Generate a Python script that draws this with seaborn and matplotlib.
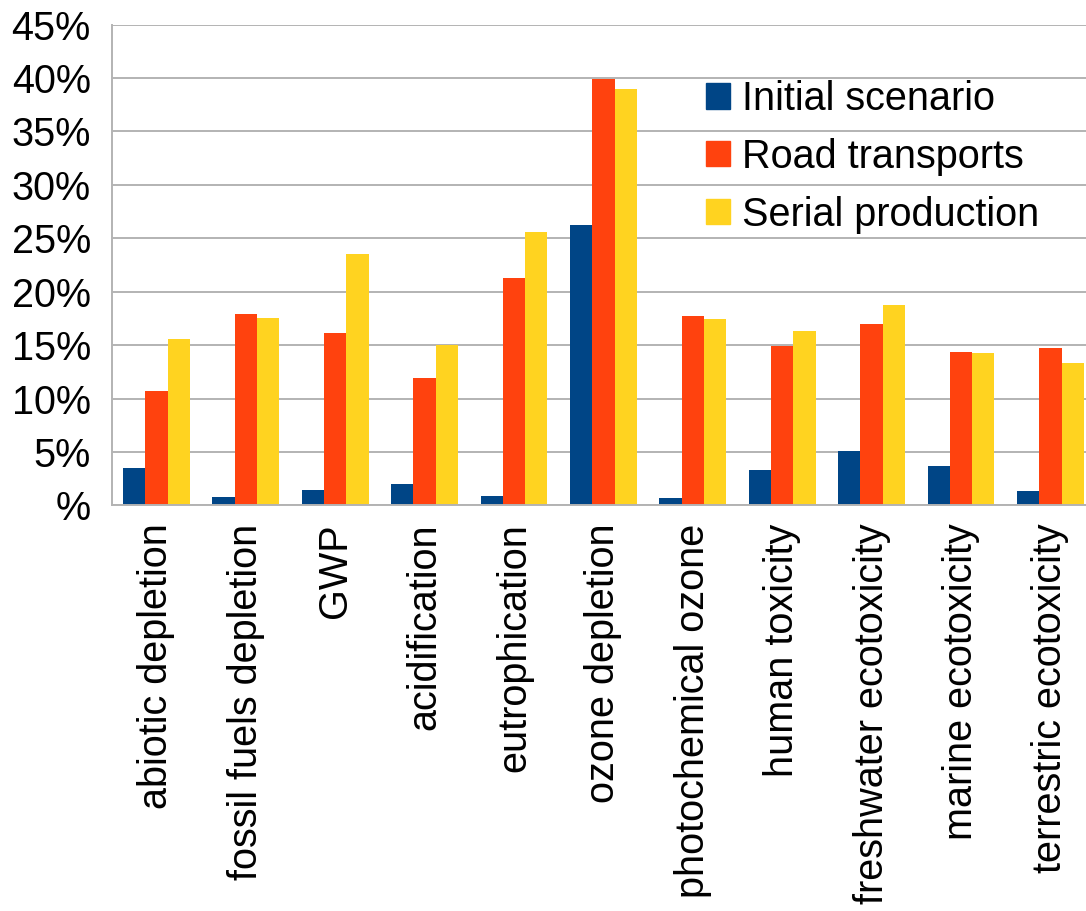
# imports
import numpy as np
import pandas as pd
import matplotlib.pyplot as plt
import seaborn as sns

# chart data (percent)
categories = ["abiotic depletion", "fossil fuels depletion", "GWP", "acidification",
              "eutrophication", "ozone depletion", "photochemical ozone", "human toxicity",
              "freshwater ecotoxicity", "marine ecotoxicity", "terrestric ecotoxicity"]
series = ["Initial scenario", "Road transports", "Serial production"]
initial = [3.5, 0.75, 1.45, 1.95, 0.9, 26.2, 0.7, 3.35, 5.1, 3.7, 1.3]
road = [10.7, 17.9, 16.1, 11.9, 21.25, 39.9, 17.7, 14.95, 17.0, 14.4, 14.75]
serial = [15.6, 17.5, 23.5, 15.05, 25.6, 39.0, 17.4, 16.3, 18.8, 14.25, 13.35]
colors = ["#004586", "#ff420e", "#ffd320"]
ytick_vals = [0, 5, 10, 15, 20, 25, 30, 35, 40, 45]
ytick_labels = ["%", "5%", "10%", "15%", "20%", "25%", "30%", "35%", "40%", "45%"]

# long form table for seaborn
df = pd.DataFrame({
    "category": categories * 3,
    "scenario": np.repeat(series, len(categories)),
    "value": initial + road + serial,
})

sns.set_style("white")
plt.rcParams["font.family"] = ["Liberation Sans", "DejaVu Sans"]
plt.rcParams["text.color"] = "black"
plt.rcParams["xtick.labelcolor"] = "black"
plt.rcParams["ytick.labelcolor"] = "black"

W, H = 1086, 911
fs = 28.5
fig = plt.figure(figsize=(W / 100, H / 100), dpi=100)
# axes runs past the right edge of the picture, as in the reference
ax = fig.add_axes([111.7 / W, 1 - 505.3 / H, 983.4 / W, 480.6 / H])

sns.barplot(data=df, x="category", y="value", hue="scenario", order=categories,
            hue_order=series, palette=colors, width=0.745, errorbar=None,
            linewidth=0, saturation=1, ax=ax)

ax.set_xlim(-0.5, len(categories) - 0.5)
ax.set_ylim(0, 45)
ax.set_xlabel("")
ax.set_ylabel("")

grid_c = "#b3b3b3"
ax.set_yticks(ytick_vals)
ax.set_yticklabels(ytick_labels, fontsize=fs, color="black")
ax.yaxis.grid(True, color=grid_c, linewidth=1.4)
ax.set_axisbelow(True)
ax.tick_params(axis="y", length=8, width=1.2, color=grid_c, pad=7)

# category labels at centres, tick marks at the boundaries
ax.set_xticks(range(len(categories)))
ax.set_xticklabels(categories, rotation=90, fontsize=fs, va="top", ha="center",
                   color="black")
ax.set_xticks(np.arange(-0.5, len(categories), 1), minor=True)
ax.tick_params(axis="x", which="major", length=0, pad=13)
ax.tick_params(axis="x", which="minor", length=7, width=1.2, color=grid_c)

for s in ["top", "right"]:
    ax.spines[s].set_visible(False)
for s in ["left", "bottom"]:
    ax.spines[s].set_color(grid_c)
    ax.spines[s].set_linewidth(1.4)

ax.legend_.remove()
handles = [plt.Rectangle((0, 0), 1, 1, color=c) for c in colors]
leg = fig.legend(handles, series, loc="upper left", bbox_to_anchor=(706 / W, 1 - 80 / H),
                 frameon=False, fontsize=fs, handlelength=0.6, handleheight=0.6,
                 handletextpad=0.3, labelspacing=0.5, borderpad=0, borderaxespad=0)
for t in leg.get_texts():
    t.set_color("black")

fig.savefig("out.png", dpi=100)
